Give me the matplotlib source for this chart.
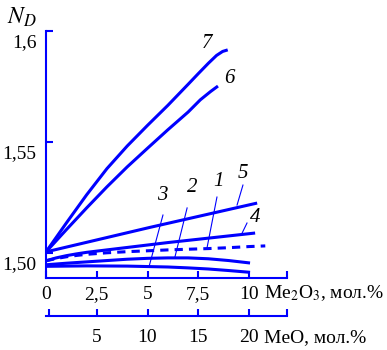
import matplotlib
matplotlib.use("Agg")
import matplotlib.pyplot as plt
from matplotlib.transforms import ScaledTranslation, blended_transform_factory

plt.rcParams['font.family'] = ['Liberation Serif', 'DejaVu Serif']
plt.rcParams['mathtext.fontset'] = 'stix'

# refractive index N_D vs Me2O3 content (mol.%), curves 1-7
x7 = [0, 1, 2, 3, 4, 5, 6, 7, 7.5, 8, 8.4, 8.7, 8.95]
y7 = [1.5005, 1.5135, 1.5262, 1.5380, 1.5482, 1.5575, 1.5665, 1.5760, 1.5808,
      1.5855, 1.5890, 1.5908, 1.5915]
x6 = [0, 1, 2, 3, 4, 5, 6, 7, 7.6, 8.1, 8.47]
y6 = [1.5005, 1.5105, 1.5203, 1.5298, 1.5388, 1.5472, 1.5555, 1.5635, 1.5690,
      1.5727, 1.5752]
x5 = [0, 5.1, 10.4]
y5 = [1.5005, 1.5115, 1.5225]
x4 = [0, 0.5, 1, 1.5, 2, 3, 4, 5, 6, 7, 8, 9, 10.3]
y4 = [1.4965, 1.4978, 1.4988, 1.4996, 1.5003, 1.5014, 1.5025, 1.5036, 1.5047,
      1.5057, 1.5067, 1.5077, 1.5090]
x1 = [0, 0.5, 1, 1.5, 2, 3, 4, 5, 6, 7, 8, 9, 10, 10.8]
y1 = [1.4965, 1.4975, 1.4983, 1.4989, 1.4994, 1.5001, 1.5006, 1.5010, 1.5014,
      1.5017, 1.5020, 1.5024, 1.5029, 1.5032]
x2 = [0, 1, 2, 3, 4, 5, 6, 7, 8, 9, 10.05]
y2 = [1.4947, 1.4954, 1.4960, 1.4966, 1.4972, 1.4976, 1.4978, 1.4978, 1.4974,
      1.4966, 1.4955]
x3 = [0, 2, 4, 5, 6, 7, 8, 9, 10.05]
y3 = [1.4940, 1.4942, 1.4941, 1.4939, 1.4937, 1.4933, 1.4928, 1.4921, 1.4913]

xticks = [0, 2.5, 5, 7.5, 10]
xticklabels = ['0', '2,5', '5', '7,5', '10']
yticks = [1.50, 1.55, 1.60]
yticklabels = ['1,50', '1,55', '1,6']
meo_ticks = [5, 10, 15, 20]

# curve number labels: (text, label x, label y, pointer start, pointer end)
labels = [
    ('7', 7.93, 1.5942, None, None),
    ('6', 9.01, 1.5784, None, None),
    ('5', 9.70, 1.5360, (9.70, 1.5306), (9.41, 1.5216)),
    ('4', 10.3, 1.5162, (9.90, 1.5135), (9.66, 1.5090)),
    ('1', 8.52, 1.5320, (8.42, 1.5252), (7.93, 1.5023)),
    ('2', 7.19, 1.5293, (6.95, 1.5203), (6.35, 1.4982)),
    ('3', 5.71, 1.5261, (5.76, 1.5171), (5.07, 1.4937)),
]

blue = '#0000ff'
xmax = 11.87

fig = plt.figure(figsize=(3.87, 3.5), dpi=100)
ax = fig.add_axes([0.1189, 0.2057, 0.7416 - 0.1189, 0.9114 - 0.2057])

lw = 2.2
for xs, ys in [(x7, y7), (x6, y6), (x5, y5), (x4, y4), (x2, y2), (x3, y3)]:
    ax.plot(xs, ys, color=blue, lw=lw, solid_capstyle='butt', solid_joinstyle='round')
ax.plot(x1, y1, color=blue, lw=lw, dashes=(2.7, 2))

for txt, tx, ty, p0, p1 in labels:
    ax.text(tx, ty, txt, fontsize=15, style='italic', ha='center', va='center')
    if p0 is not None:
        ax.plot([p0[0], p1[0]], [p0[1], p1[1]], color=blue, lw=0.8)

ax.set_xlim(0, xmax)
ax.set_ylim(1.48874, 1.60)

for s in ['top', 'right']:
    ax.spines[s].set_visible(False)
for s in ['left', 'bottom']:
    ax.spines[s].set_color(blue)
    ax.spines[s].set_linewidth(1.5)

ax.set_xticks(xticks)
ax.set_xticklabels(xticklabels)
ax.set_xticks([xmax], minor=True)
ax.set_yticks(yticks)
ax.set_yticklabels(yticklabels)
ax.tick_params(direction='in', length=5, width=1.5, color=blue, labelsize=14, which='both')
ax.tick_params(axis='x', pad=6)
ax.tick_params(axis='y', pad=7)
for lab in ax.get_yticklabels():
    lab.set_transform(lab.get_transform() + ScaledTranslation(0, -0.1, fig.dpi_scale_trans))

# second scale: MeO content, twice the Me2O3 value
sec = ax.secondary_xaxis(-0.154, functions=(lambda v: v * 2, lambda v: v / 2))
sec.spines['bottom'].set_color(blue)
sec.spines['bottom'].set_linewidth(1.5)
sec.set_xticks(meo_ticks)
sec.set_xticklabels([str(t) for t in meo_ticks])
sec.set_xticks([0.3, xmax * 2], minor=True)
sec.tick_params(direction='in', length=5, width=1.5, color=blue, labelsize=14, pad=9, which='both')

tr = blended_transform_factory(ax.transData, fig.transFigure)
ax.text(10.75, 1 - 293 / 350, r'Me$_2$O$_3$, мол.%', transform=tr, fontsize=14,
        ha='left', va='center', clip_on=False)
ax.text(10.75, 1 - 338 / 350, 'MeO, мол.%', transform=tr, fontsize=14,
        ha='left', va='center', clip_on=False)

fig.text(22 / 387, 1 - 17 / 350, r'$N_D$', fontsize=17, ha='center', va='center')

fig.savefig('out.png', dpi=100)
